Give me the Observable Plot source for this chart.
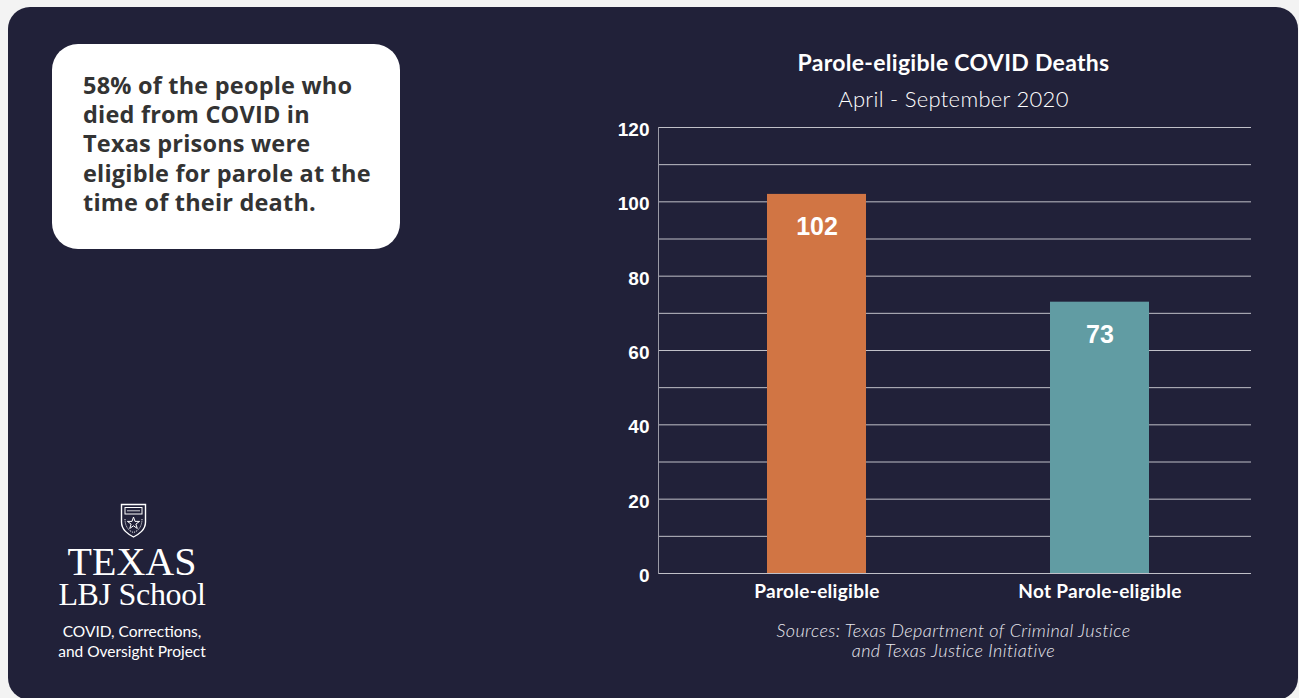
<!DOCTYPE html>
<html>
<head>
<meta charset="utf-8">
<script src="https://cdn.jsdelivr.net/npm/d3@7"></script>
<script src="https://cdn.jsdelivr.net/npm/@observablehq/plot@0.6"></script>
<style>
  html, body { margin: 0; padding: 0; }
  body { width: 1299px; height: 698px; background: #f3f3f3; position: relative; overflow: hidden; font-family: Lato, "Noto Sans", sans-serif; }
  #card { position: absolute; left: 8px; top: 7px; width: 1290px; height: 693px; background: #212139; border-radius: 22px; }
  #callout { position: absolute; left: 52px; top: 44px; width: 348px; height: 205px; background: #fff; border-radius: 26px; box-sizing: border-box; padding: 0; color: #333; }
  #callout div { position: absolute; left: 31px; top: 27px; font-family: "Open Sans", Lato, sans-serif; font-weight: 700; font-size: 23.5px; line-height: 29.2px; white-space: nowrap; letter-spacing: 0.2px; }
  .abs { position: absolute; color: #fff; white-space: nowrap; }
  #shield { position: absolute; left: 120px; top: 503px; }
  #t1 { left: 32px; width: 200px; text-align: center; top: 546.5px; font-family: "Liberation Serif", "DejaVu Serif", serif; font-size: 40px; line-height: 30px; }
  #t1 span { font-size: 32px; letter-spacing: -0.3px; }
  #t3 { left: 32px; width: 200px; text-align: center; top: 621px; font-family: Lato, "Noto Sans", sans-serif; font-size: 15.5px; line-height: 20px; }
  .title { position: absolute; left: 600px; width: 707px; text-align: center; color: #fff; }
  #title { top: 49px; font-size: 23px; line-height: 1.2; font-weight: 700; letter-spacing: 0.3px; }
  #subtitle { top: 86px; font-size: 22px; line-height: 1.2; font-weight: 300; letter-spacing: 0.3px; }
  #source { top: 620px; font-size: 18px; font-style: italic; font-weight: 300; line-height: 20px; letter-spacing: 0.4px; color: #e8e8ee; }
  #chart { position: absolute; left: 600px; top: 120px; }
</style>
</head>
<body>
<div id="card"></div>
<div id="callout"><div>58% of the people who<br>died from COVID in<br>Texas prisons were<br>eligible for parole at the<br>time of their death.</div></div>
<svg id="shield" width="27" height="35" viewBox="0 0 27 35">
  <path d="M1.5 1.5 H25.5 V19 C25.5 27 19 31 13.5 34 C8 31 1.5 27 1.5 19 Z" fill="none" stroke="#fff" stroke-width="1.4"/>
  <rect x="5" y="4.5" width="17" height="6.5" fill="none" stroke="#fff" stroke-width="1"/>
  <line x1="7" y1="7.8" x2="20" y2="7.8" stroke="#fff" stroke-width="0.8"/>
  <path d="M13.5 14 L15 18.4 L19.6 18.4 L15.9 21.1 L17.3 25.5 L13.5 22.8 L9.7 25.5 L11.1 21.1 L7.4 18.4 L12 18.4 Z" fill="none" stroke="#fff" stroke-width="1"/>
  <path d="M5 16 C5 24 9 28 13.5 29.5 C18 28 22 24 22 16" fill="none" stroke="#fff" stroke-width="0.9" stroke-dasharray="1.2 1"/>
</svg>
<div id="t1" class="abs">TEXAS<br><span>LBJ School</span></div>
<div id="t3" class="abs">COVID, Corrections,<br>and Oversight Project</div>
<div id="title" class="title">Parole-eligible COVID Deaths</div>
<div id="subtitle" class="title">April - September 2020</div>
<div id="source" class="title">Sources: Texas Department of Criminal Justice<br>and Texas Justice Initiative</div>
<div id="chart"></div>
<script>
const categories = ["Parole-eligible", "Not Parole-eligible"];
const values = [102, 73];
const barColors = ["#d17544", "#619ca3"];
const yTicks = [0, 20, 40, 60, 80, 100, 120];
const gridValues = [0, 10, 20, 30, 40, 50, 60, 70, 80, 90, 100, 110, 120];

const data = categories.map((c, i) => ({category: c, value: values[i]}));

const chart = Plot.plot({
  width: 690,
  height: 500,
  marginLeft: 58,
  marginRight: 39,
  marginTop: 7,
  marginBottom: 47,
  style: {background: "transparent", color: "#fff", overflow: "visible"},
  x: {domain: categories, range: [61, 654], paddingInner: 0.651, paddingOuter: 0.37, label: null},
  y: {domain: [0, 120], label: null},
  color: {domain: categories, range: barColors},
  marks: [
    Plot.gridY(gridValues, {stroke: "#c0c0c8", strokeOpacity: 1, strokeWidth: 1}),
    Plot.frame({anchor: "left", stroke: "#9a9aa6", strokeWidth: 1}),
    Plot.barY(data, {x: "category", y: "value", fill: "category"}),
    Plot.text(data, {x: "category", y: "value", text: d => String(d.value), dy: 33, fill: "#fff", fontSize: 25, fontWeight: "bold", fontFamily: "Liberation Sans, Arial, sans-serif"}),
    Plot.axisY(yTicks, {tickSize: 0, tickPadding: 9, dy: 2.5, fontSize: 19, fontWeight: "bold", fontFamily: "Liberation Sans, Arial, sans-serif", fill: "#fff", label: null}),
    Plot.axisX({tickSize: 0, tickPadding: 11, fontSize: 19, fontWeight: "bold", fontFamily: "Lato, sans-serif", fill: "#fff", label: null})
  ]
});
d3.select(chart).selectAll("g[aria-label='x-axis tick label'] text").style("letter-spacing", "0.3px");
document.getElementById("chart").appendChild(chart);
</script>
</body>
</html>
